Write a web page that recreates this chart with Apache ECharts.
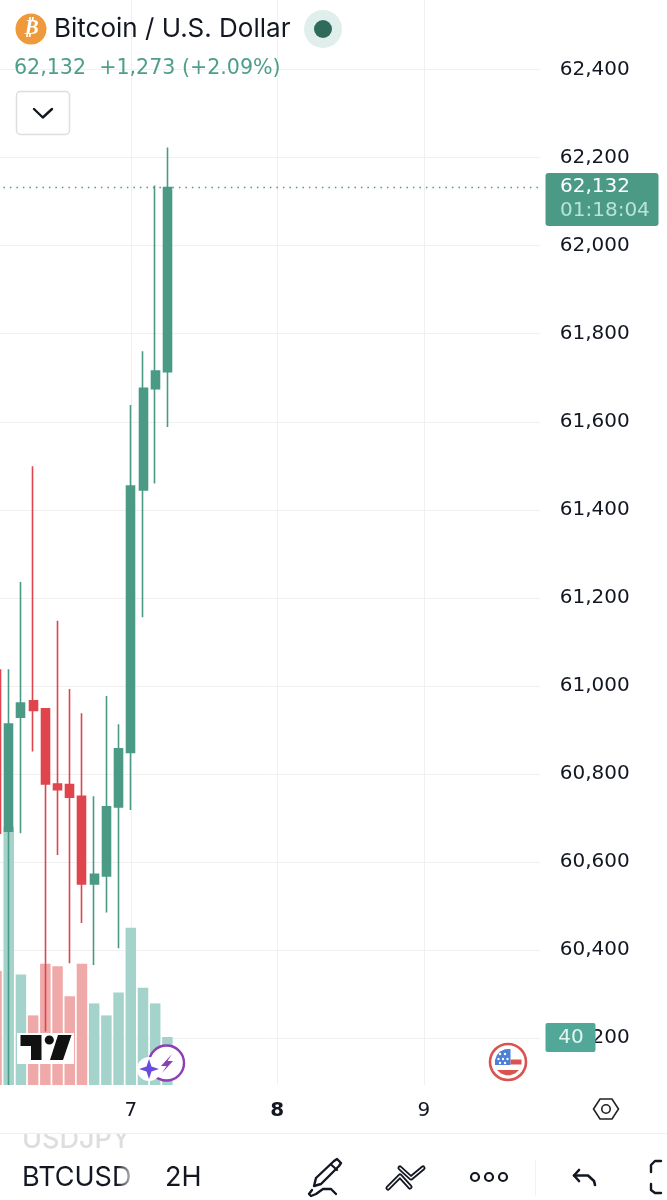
<!DOCTYPE html>
<html><head><meta charset="utf-8">
<style>html,body{margin:0;padding:0;background:#fff}#c{width:667px;height:1200px}</style>
<script src="https://cdn.jsdelivr.net/npm/echarts@6/dist/echarts.min.js"></script>
</head><body><div id="c"></div>
<script>
// ---- data ----
const dayLabels = {11:'7', 23:'8', 35:'9'};
const opens  = [61036,60670,60929,60966,60948,60777,60776,60749,60550,60568,60725,60849,61445,61675,61714];
const closes = [60665,60913,60961,60944,60777,60764,60747,60550,60572,60725,60857,61454,61676,61715,62132];
const highs  = [61041,61038,61236,61499,60948,61148,60993,60938,60749,60977,60913,61638,61760,62137,62223];
const lows   = [60660,60093,60665,60851,60215,60616,60370,60461,60366,60485,60404,60718,61156,61460,61588];
const volumes= [95,215,92,58,101,99,74,101,68,58,77,131,81,68,40];
const lastPrice = 62132;
const TITLE='Bitcoin / U.S. Dollar', QUOTE='62,132  +1,273 (+2.09%)', PRICE_TAG='62,132', TIMER='01:18:04', VOL_TAG='40';
const SYMBOL='BTCUSD', RES='2H', GHOST='USDJPY';
// ------------------------------------
const N=45;
const cats=Array.from({length:N},(_,i)=>String(i));
const GREEN='#4A9A86', RED='#E0454D', GL='#A4D3CC', RL='#EFA9A9';
const FONT='Inter, "Noto Sans", sans-serif';
const NUM='"DejaVu Sans"';
const candle=opens.map((o,i)=>[o,closes[i],lows[i],highs[i]]);
const vols=volumes.map((v,i)=>({value:v,itemStyle:{color:closes[i]>=opens[i]?GL:RL}}));
const GRID_L=-9.6, GRID_R=667-539.76;
const isDay=i=>dayLabels[i]!==undefined;
const txt=(x,y,text,size,fill,extra)=>({type:'text',x,y,silent:true,style:Object.assign({text,font:size+'px '+FONT,fill,verticalAlign:'middle'},extra||{})});
const poly=(pts,fill)=>({type:'polygon',silent:true,shape:{points:pts},style:{fill}});
const pline=(pts,stroke,w)=>({type:'polyline',silent:true,shape:{points:pts},style:{fill:null,stroke,lineWidth:w,lineCap:'round',lineJoin:'round'}});
const circ=(cx,cy,r,fill,stroke,w)=>({type:'circle',silent:true,shape:{cx,cy,r},style:{fill:fill||null,stroke:stroke||null,lineWidth:w||0}});
const rect=(x,y,width,height,fill,r,stroke,w)=>({type:'rect',silent:true,shape:{x,y,width,height,r:r||0},style:{fill:fill||null,stroke:stroke||null,lineWidth:w||0}});
const hex=[[600,1099],[612,1099],[618.5,1109],[612,1119],[600,1119],[593.5,1109]];
const starDots=[];
[[500,1054],[505,1054],[498.5,1059],[503,1059],[507.5,1059],[500,1063],[505,1063]].forEach(p=>starDots.push(circ(p[0],p[1],1.2,'#fff')));

const gfx=[
 // header
 circ(31,29,15.5,'#EE9A3C'),
 txt(31,29,'₿',21,'#fff',{align:'center',font:'italic bold 21px "DejaVu Sans"'}),
 txt(54,29,TITLE,26,'#131722'),
 circ(323,29,19,'#E1EFEC'),
 circ(323,29,9,'#2F6B5A'),
 txt(14,69,QUOTE,20.6,'#4F9E8B',{font:'20.6px '+NUM}),
 rect(16.5,91.5,53,43,'#fff',4,'#DEDEDE',1.5),
 pline([[34,109],[42.8,117.5],[52,109]],'#131722',2.4),
 // price tag
 rect(545.5,173,113,53,GREEN,3),
 txt(560,187,PRICE_TAG,20,'#fff',{font:'20px '+NUM}),
 txt(560,211,TIMER,20,'#B9E3DA',{font:'20px '+NUM}),
 // volume tag
 rect(545.5,1023,50,29,'#52A898',2),
 txt(571,1038,VOL_TAG,20,'#E4F4F0',{align:'center',font:'20px '+NUM}),
 // TradingView logo
 rect(17,1033,57,31,'#fff'),
 poly([[20.5,1035],[41.5,1035],[41.5,1060],[31,1060],[31,1046],[20.5,1046]],'#111'),
 circ(49.3,1040,4.6,'#111'),
 poly([[58,1035],[71.5,1035],[63,1060],[50,1060]],'#111'),
 // purple badge
 circ(166.5,1063,17.5,'#fff','#8E3FB5',2.4),
 poly([[172,1054],[161,1066],[166.5,1066],[162,1073],[173,1061],[167.5,1061]],'#8E3FB5'),
 circ(149,1069,12,'#fff'),
 poly([[149,1059],[151.5,1066.5],[159,1069],[151.5,1071.5],[149,1079],[146.5,1071.5],[139,1069],[146.5,1066.5]],'#6A4BE0'),
 // flag
 circ(508,1062,18,'#fff','#D9534F',2.6),
 poly([[510.5,1049],[505,1049.2],[500,1051.5],[497,1055],[495,1060],[495,1065],[510.5,1065]],'#4C7FD6'),
 ...starDots,
 rect(510.5,1059.5,11,5,'#D9534F'),
 poly([[497,1070],[519,1070],[515,1073.5],[510,1075.3],[506,1075.3],[501,1073.5]],'#D9534F'),
 // axis settings hex
 Object.assign(poly(hex,'#fff'),{style:{fill:'#fff',stroke:'#222',lineWidth:1.6}}),
 circ(606,1109,4.2,null,'#222',1.6),
 // footer
 txt(22,1140,GHOST,27,'#DEDEDE',{font:'500 27px '+FONT}),
 rect(0,1118,200,15,'#fff'),
 rect(0,1133,667,1,'#EFEFEF'),
 txt(22,1178,SYMBOL,27,'#131722'),
 {type:'rect',silent:true,shape:{x:117,y:1160,width:20,height:36},style:{fill:new echarts.graphic.LinearGradient(0,0,1,0,[{offset:0,color:'rgba(255,255,255,0)'},{offset:1,color:'rgba(255,255,255,1)'}])}},
 txt(165,1178,RES,27,'#131722'),
 // pencil
 pline([[316,1178],[334,1161],[337,1159],[341,1163],[339,1166],[321,1184],[314,1186],[316,1178]],'#131722',2.4),
 pline([[331,1164.5],[337,1170]],'#131722',2.2),
 pline([[312,1190],[309,1194],[311,1196],[316,1194],[323,1189],[331,1189],[336,1194]],'#131722',2.4),
 // trend tool
 pline([[388,1188],[400,1176],[410,1187]],'#131722',5),
 pline([[400,1168],[411,1178],[423,1168]],'#131722',5),
 pline([[388,1188],[400,1176],[410,1187]],'#fff',1.4),
 pline([[400,1168],[411,1178],[423,1168]],'#fff',1.4),
 // dots
 circ(475,1177,4,null,'#131722',2.2), circ(489,1177,4,null,'#131722',2.2), circ(503,1177,4,null,'#131722',2.2),
 // divider
 rect(535,1160,1,36,'#F2F2F2'),
 // undo
 pline([[579,1170],[574,1175.5],[579,1181]],'#131722',2.6),
 pline([[574,1175.5],[588,1175.5],[594,1181],[595,1185]],'#131722',2.6),
 // bracket
 pline([[661,1161],[655,1161],[651,1165],[651,1172]],'#131722',2.4),
 pline([[651,1184],[651,1190],[655,1193],[661,1193]],'#131722',2.4)
].map(e=>Object.assign(e,{z:100}));

const chart=echarts.init(document.getElementById('c'),null,{renderer:'canvas',width:667,height:1200});
chart.setOption({
 animation:false,
 backgroundColor:'#fff',
 grid:[
  {left:GRID_L,right:GRID_R,top:-18.4,height:1056.4,outerBoundsMode:'none',containLabel:false},
  {left:GRID_L,right:GRID_R,top:800,height:285,outerBoundsMode:'none',containLabel:false}
 ],
 xAxis:[
  {type:'category',gridIndex:0,data:cats,axisLine:{show:false},axisTick:{show:false},axisLabel:{show:false},
   splitLine:{show:true,alignWithLabel:true,interval:(i)=>isDay(i),lineStyle:{color:'#F0F0F0',width:1}}},
  {type:'category',gridIndex:1,data:cats,axisLine:{show:false},axisTick:{show:false},
   axisLabel:{show:true,interval:(i)=>isDay(i),margin:16,hideOverlap:false,fontFamily:NUM,fontSize:20,color:'#131722',
     formatter:(v)=>dayLabels[v]==='8'?'{b|8}':dayLabels[v],rich:{b:{fontWeight:'bold',fontSize:20,fontFamily:NUM,color:'#131722'}}},
   splitLine:{show:true,alignWithLabel:true,interval:(i)=>isDay(i),lineStyle:{color:'#F0F0F0',width:1}}}
 ],
 yAxis:[
  {type:'value',gridIndex:0,position:'right',min:60200,max:62600,interval:200,axisLine:{show:false},axisTick:{show:false},
   axisLabel:{margin:20,fontFamily:NUM,fontSize:20,color:'#131722',formatter:(v)=>v.toLocaleString('en-US')},
   splitLine:{show:true,lineStyle:{color:'#F0F0F0',width:1}}},
  {type:'value',gridIndex:1,min:0,max:237.5,show:false,splitLine:{show:false}}
 ],
 series:[
  {type:'bar',xAxisIndex:1,yAxisIndex:1,data:vols,barWidth:10.5,z:2,silent:true},
  {type:'candlestick',xAxisIndex:0,yAxisIndex:0,data:candle,barWidth:8.5,clip:false,z:3,silent:true,
   itemStyle:{color:GREEN,color0:RED,borderColor:GREEN,borderColor0:RED,borderWidth:1.6},
   markLine:{silent:true,symbol:'none',label:{show:false},animation:false,
     lineStyle:{color:GREEN,type:[1.5,5],width:1.3},data:[{yAxis:lastPrice}]}}
 ],
 graphic:gfx
});
</script></body></html>
